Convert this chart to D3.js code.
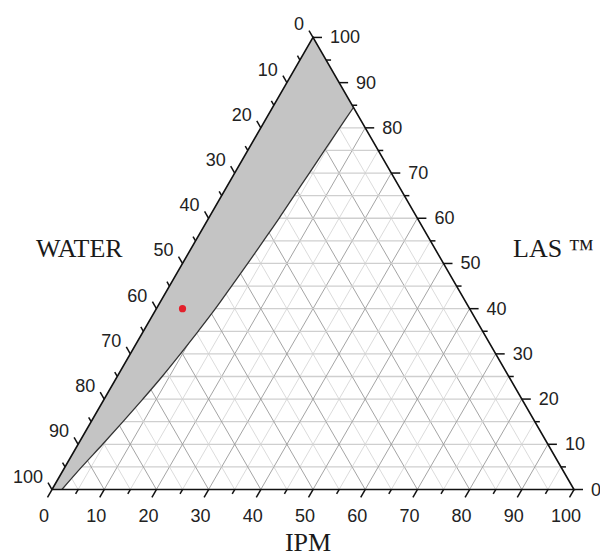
<!DOCTYPE html>
<html>
<head>
<meta charset="utf-8">
<script src="https://cdn.jsdelivr.net/npm/d3@7"></script>
<style>
    body { margin: 0; background: #fff; }
    svg { display: block; }
    .num { font-family: "Liberation Sans", Arial, sans-serif; font-size: 18px; fill: #222; }
    .title { font-family: "Liberation Serif", "Times New Roman", serif; font-size: 26px; fill: #1a1a1a; }
</style>
</head>
<body>
<svg id="chart" width="600" height="560"></svg>
<script>
// Axis ticks (percent)
var majorTicks = d3.range(0, 101, 10);
var minorTicks = d3.range(5, 100, 10);
var gridValues = d3.range(5, 100, 5);

// Boundary of the grey region (LAS %, IPM %; WATER = rest)
var boundaryLAS = [0, 5, 10, 15, 20, 25, 30, 35, 40, 45, 50, 55, 60, 65, 70, 75, 80, 84.5];
var boundaryIPM = [1.9, 3.2, 4.7, 6.1, 7.4, 8.6, 9.6, 10.5, 11.3, 11.9, 12.5, 13.0, 13.5, 13.9, 14.3, 14.7, 15.1, 15.5];

// Marked formulation
var pointIPM = [5];
var pointLAS = [40];
var pointWATER = [55];

var svg = d3.select("#chart");

var x0 = 52, yBase = 489.5, side = 522;
var sx = d3.scaleLinear().domain([0, 100]).range([0, side]);
var sy = d3.scaleLinear().domain([0, 100]).range([yBase, yBase - side * Math.sqrt(3) / 2]);

// position from IPM and LAS
function pos(ipm, las) {
    return [x0 + sx(ipm) + sx(las) / 2, sy(las)];
}

// Grid
var grid = svg.append("g");

function gridLine(a, b, color, width) {
    grid.append("line")
        .attr("x1", a[0]).attr("y1", a[1])
        .attr("x2", b[0]).attr("y2", b[1])
        .attr("stroke", color)
        .attr("stroke-width", width);
}

gridValues.forEach(function (v) {
    var major = v % 10 === 0;
    // constant LAS (horizontal)
    gridLine(pos(0, v), pos(100 - v, v), "#cfcfcf", 1.3);
    // constant IPM
    gridLine(pos(v, 0), pos(v, 100 - v), major ? "#9a9a9a" : "#d2d2d2", major ? 0.9 : 0.8);
    // constant WATER
    gridLine(pos(100 - v, 0), pos(0, 100 - v), major ? "#9a9a9a" : "#d2d2d2", major ? 0.9 : 0.8);
});

// Grey region
var curvePts = boundaryLAS.map(function (l, i) { return pos(boundaryIPM[i], l); }).reverse();
var line = d3.line().curve(d3.curveCatmullRom);
var apex = pos(0, 100), corner = pos(0, 0);

svg.append("path")
    .attr("d", "M" + apex + "L" + line(curvePts).slice(1) + "L" + corner + "Z")
    .attr("fill", "#c4c4c4")
    .attr("stroke", "none");

svg.append("path")
    .attr("d", line(curvePts))
    .attr("fill", "none")
    .attr("stroke", "#333")
    .attr("stroke-width", 1.3);

// Triangle frame
svg.append("path")
    .attr("d", "M" + pos(0, 0) + "L" + pos(100, 0) + "L" + pos(0, 100) + "Z")
    .attr("fill", "none")
    .attr("stroke", "#111")
    .attr("stroke-width", 1.6);

// Ticks
var ticks = svg.append("g")
    .attr("stroke", "#111")
    .attr("stroke-width", 1.5);

var c60 = 0.5, s60 = Math.sqrt(3) / 2;

function tick(p, dx, dy, len) {
    ticks.append("line")
        .attr("x1", p[0]).attr("y1", p[1])
        .attr("x2", p[0] + dx * len).attr("y2", p[1] + dy * len);
}

majorTicks.forEach(function (v) {
    tick(pos(v, 0), -c60, s60, 9);          // IPM
    tick(pos(100 - v, v), 1, 0, 9);         // LAS
    tick(pos(0, 100 - v), -c60, -s60, 8);   // WATER
});
minorTicks.forEach(function (v) {
    tick(pos(v, 0), -c60, s60, 5);
    tick(pos(100 - v, v), 1, 0, 5);
    tick(pos(0, 100 - v), -c60, -s60, 5);
});

// Tick labels
var labels = svg.append("g").attr("class", "num");

majorTicks.forEach(function (v) {
    // IPM along the base
    var p = pos(v, 0);
    labels.append("text")
        .attr("x", p[0] - 8).attr("y", p[1] + 32)
        .attr("text-anchor", "middle")
        .text(v);

    // LAS on the right, 0 at the bottom
    p = pos(100 - v, v);
    labels.append("text")
        .attr("x", p[0] + 17).attr("y", p[1] + 6)
        .text(v);

    // WATER on the left, 0 at the top
    p = pos(0, 100 - v);
    labels.append("text")
        .attr("x", p[0] - 9).attr("y", p[1] - 7)
        .attr("text-anchor", "end")
        .text(v);
});

// Axis titles
svg.append("text").attr("class", "title")
    .attr("x", 36).attr("y", 257)
    .text("WATER");

svg.append("text").attr("class", "title")
    .attr("x", 513).attr("y", 257)
    .text("LAS \u2122");

svg.append("text").attr("class", "title")
    .attr("x", 308).attr("y", 551)
    .attr("text-anchor", "middle")
    .text("IPM");

// Formulation point
svg.selectAll("circle.pt")
    .data(pointIPM)
    .enter()
    .append("circle")
    .attr("class", "pt")
    .attr("cx", function (d, i) { return pos(d, pointLAS[i])[0]; })
    .attr("cy", function (d, i) { return pos(d, pointLAS[i])[1]; })
    .attr("r", 3.6)
    .attr("fill", "#e3202b");
</script>
</body>
</html>
